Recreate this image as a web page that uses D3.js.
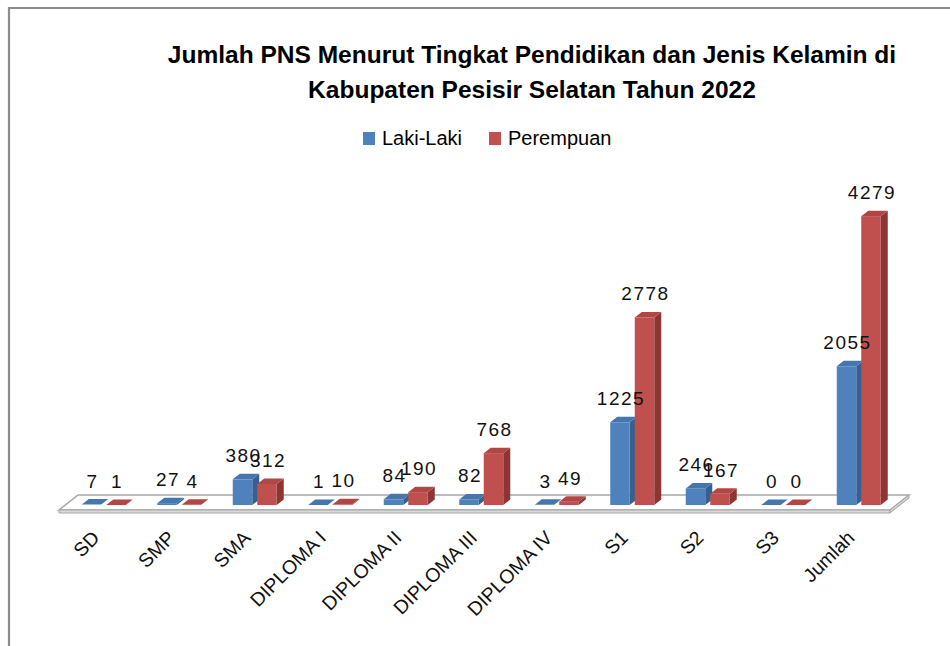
<!DOCTYPE html>
<html><head><meta charset="utf-8">
<script src="https://cdn.jsdelivr.net/npm/d3@7"></script>
<style>
body{margin:0;background:#fff;}
text{font-family:"Liberation Sans",Arial,Helvetica,sans-serif;}
</style>
</head><body>
<svg id="chart" width="950" height="646"></svg>
<script>
// ---- data ----
const categories = ["SD","SMP","SMA","DIPLOMA I","DIPLOMA II","DIPLOMA III","DIPLOMA IV","S1","S2","S3","Jumlah"];
const lakiLaki   = [7, 27, 380, 1, 84, 82, 3, 1225, 246, 0, 2055];
const perempuan  = [1, 4, 312, 10, 190, 768, 49, 2778, 167, 0, 4279];
const seriesNames = ["Laki-Laki", "Perempuan"];
const titleLines = ["Jumlah PNS Menurut Tingkat Pendidikan dan Jenis Kelamin di",
                    "Kabupaten Pesisir Selatan Tahun 2022"];
const yDomain = [0, 5000];

// ---- styles ----
const palette = [
  {front:"#4F81BD", side:"#35608f", top:"#4676ae"},
  {front:"#C0504D", side:"#8c3634", top:"#b14744"}
];

const svg = d3.select("#chart");
svg.append("rect").attr("width",950).attr("height",646).attr("fill","#fff");

// frame
svg.append("path").attr("d","M9,646 L9,8 L950,8")
  .attr("fill","none").attr("stroke","#8c8c8c").attr("stroke-width",2.2);

// scales
const baseY = 505;
const x = d3.scaleBand().domain(categories).range([66, 896.5]);
const y = d3.scaleLinear().domain(yDomain).range([baseY, baseY - 0.0675*5000]);
const barW = 19.5, gap = 5, dX = 7, dY = -5.5;

// floor
const fl = {x0: x.range()[0]-7, x1: x.range()[1]-6.5, yF: 510, ddx: 19, ddy: -15, th: 3};
const floorG = svg.append("g");
floorG.append("path")
  .attr("d",`M${fl.x0},${fl.yF} L${fl.x1},${fl.yF} L${fl.x1+fl.ddx},${fl.yF+fl.ddy} L${fl.x0+fl.ddx},${fl.yF+fl.ddy} Z`)
  .attr("fill","#fff").attr("stroke","#a6a6a6").attr("stroke-width",1.5);
floorG.append("path")
  .attr("d",`M${fl.x0},${fl.yF} L${fl.x1},${fl.yF} L${fl.x1},${fl.yF+fl.th} L${fl.x0},${fl.yF+fl.th} Z`)
  .attr("fill","#d9d9d9").attr("stroke","#a6a6a6").attr("stroke-width",1);
floorG.append("path")
  .attr("d",`M${fl.x1},${fl.yF} L${fl.x1+fl.ddx},${fl.yF+fl.ddy} L${fl.x1+fl.ddx},${fl.yF+fl.ddy+fl.th} L${fl.x1},${fl.yF+fl.th} Z`)
  .attr("fill","#d0d0d0").attr("stroke","#a6a6a6").attr("stroke-width",1);

// bars
const series = [lakiLaki, perempuan];
const bars = svg.append("g");
categories.forEach((c, i) => {
  const cx = x(c) + x.bandwidth()/2;
  series.forEach((vals, s) => {
    const v = vals[i];
    const x0 = s === 0 ? cx - gap/2 - barW : cx + gap/2;
    const yt = y(v);
    const col = palette[s];
    const g = bars.append("g");
    if (baseY - yt > 0.5) {
      g.append("path").attr("d",`M${x0+barW},${yt} L${x0+barW+dX},${yt+dY} L${x0+barW+dX},${baseY+dY} L${x0+barW},${baseY} Z`)
        .attr("fill",col.side);
      g.append("rect").attr("x",x0).attr("y",yt).attr("width",barW).attr("height",baseY-yt)
        .attr("fill",col.front);
    }
    g.append("path").attr("d",`M${x0},${yt} L${x0+dX},${yt+dY} L${x0+barW+dX},${yt+dY} L${x0+barW},${yt} Z`)
      .attr("fill",col.top);
  });
});

// value labels
const labels = svg.append("g");
categories.forEach((c, i) => {
  const cx = x(c) + x.bandwidth()/2;
  series.forEach((vals, s) => {
    const v = vals[i];
    const bx = (s === 0 ? cx - gap/2 - barW : cx + gap/2) + barW/2 + 1;
    labels.append("text").attr("x",bx).attr("y",y(v)-17)
      .attr("text-anchor","middle").attr("font-size",19).attr("letter-spacing",1.5)
      .attr("fill","#111").text(v);
  });
});

// category labels
const catG = svg.append("g");
categories.forEach(c => {
  const cx = x(c) + x.bandwidth()/2;
  catG.append("text")
    .attr("transform",`translate(${cx-3},539) rotate(-45)`)
    .attr("text-anchor","end").attr("font-size",19.5).attr("fill","#111").text(c);
});

// title
const tG = svg.append("g");
const t1 = tG.append("text").attr("x",532).attr("y",63).attr("text-anchor","middle")
  .attr("font-weight","bold").attr("font-size",23).attr("fill","#000").text(titleLines[0]);
const w = t1.node().getComputedTextLength();
const fs = 23 * 729 / w;
t1.attr("font-size",fs);
tG.append("text").attr("x",532).attr("y",98).attr("text-anchor","middle")
  .attr("font-weight","bold").attr("font-size",fs).attr("fill","#000").text(titleLines[1]);

// legend
const legend = svg.append("g");
const legX = [363, 489];
seriesNames.forEach((n, s) => {
  legend.append("rect").attr("x",legX[s]).attr("y",132).attr("width",12).attr("height",13)
    .attr("fill",palette[s].front);
  legend.append("text").attr("x",legX[s]+19).attr("y",145).attr("font-size",20)
    .attr("fill","#000").text(n);
});
</script>
</body></html>
